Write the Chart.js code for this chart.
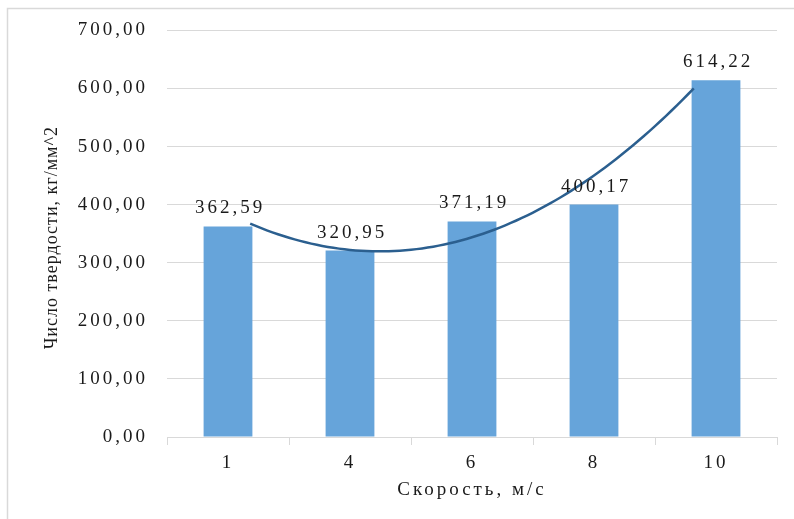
<!DOCTYPE html>
<html>
<head>
<meta charset="utf-8">
<script src="https://cdn.jsdelivr.net/npm/chart.js@4/dist/chart.umd.min.js"></script>
<style>
  html, body { margin: 0; padding: 0; background: #ffffff; }
  #wrap { width: 794px; height: 519px; position: relative; }
</style>
</head>
<body>
<div id="wrap"><canvas id="c"></canvas></div>
<script>
// Speed categories (m/s) and measured hardness values
const speeds = ['1', '4', '6', '8', '10'];
const hardness = [362.59, 320.95, 371.19, 400.17, 614.22];

// Value axis range
const yMin = 0;
const yMax = 700;
const yStep = 100;

const xTitle = 'Скорость, м/с';
const yTitle = 'Число твердости, кг/мм^2';

const FONT = 'Liberation Serif';
const FONT_SIZE = 19;
const TEXT = '#1a1a1a';
const GRID = '#d9d9d9';
const SPACING = '3px';

const fmt = v => Number(v).toFixed(2).replace('.', ',');

// Second-order polynomial trendline (least squares) over category positions 1..n
function polyFit2(ys) {
  const n = ys.length;
  const S = [0, 0, 0, 0, 0];
  const T = [0, 0, 0];
  for (let i = 0; i < n; i++) {
    const x = i + 1;
    for (let k = 0; k < 5; k++) S[k] += Math.pow(x, k);
    for (let k = 0; k < 3; k++) T[k] += Math.pow(x, k) * ys[i];
  }
  const A = [
    [S[0], S[1], S[2], T[0]],
    [S[1], S[2], S[3], T[1]],
    [S[2], S[3], S[4], T[2]]
  ];
  for (let c = 0; c < 3; c++) {
    for (let r = c + 1; r < 3; r++) {
      const f = A[r][c] / A[c][c];
      for (let k = c; k < 4; k++) A[r][k] -= f * A[c][k];
    }
  }
  const coef = [0, 0, 0];
  for (let r = 2; r >= 0; r--) {
    let s = A[r][3];
    for (let k = r + 1; k < 3; k++) s -= A[r][k] * coef[k];
    coef[r] = s / A[r][r];
  }
  return coef;
}
const trendCoef = polyFit2(hardness);
const trendPoints = [];
for (let t = 0; t <= (speeds.length - 1) + 1e-9; t += 0.05) {
  const x = t + 1;
  trendPoints.push({ x: t, y: trendCoef[0] + trendCoef[1] * x + trendCoef[2] * x * x });
}

// Wide letter spacing for the chart's text, plus the outer frame
const spacingPlugin = {
  id: 'spacing',
  beforeLayout(chart) { chart.ctx.letterSpacing = SPACING; },
  beforeDraw(chart) {
    const ctx = chart.ctx;
    ctx.letterSpacing = SPACING;
    ctx.save();
    ctx.strokeStyle = GRID;
    ctx.lineWidth = 1.5;
    ctx.beginPath();
    ctx.moveTo(7.5, chart.height);
    ctx.lineTo(7.5, 8.5);
    ctx.lineTo(chart.width, 8.5);
    ctx.stroke();
    ctx.restore();
  }
};

// Value labels above bars
const barLabels = {
  id: 'barLabels',
  afterDatasetsDraw(chart) {
    const ctx = chart.ctx;
    const meta = chart.getDatasetMeta(0);
    ctx.save();
    ctx.letterSpacing = SPACING;
    ctx.font = FONT_SIZE + 'px "' + FONT + '"';
    ctx.fillStyle = TEXT;
    ctx.textAlign = 'center';
    ctx.textBaseline = 'middle';
    meta.data.forEach((bar, i) => {
      ctx.fillText(fmt(hardness[i]), bar.x + 2, bar.y - 18);
    });
    ctx.restore();
  }
};

// Rotated value-axis title
const yTitlePlugin = {
  id: 'yTitle',
  afterDraw(chart) {
    const ctx = chart.ctx;
    const area = chart.chartArea;
    ctx.save();
    ctx.letterSpacing = '1px';
    ctx.font = '18px "' + FONT + '"';
    ctx.fillStyle = TEXT;
    ctx.textAlign = 'center';
    ctx.textBaseline = 'middle';
    ctx.translate(52, (area.top + area.bottom) / 2 + 4);
    ctx.rotate(-Math.PI / 2);
    ctx.fillText(yTitle, 0, 0);
    ctx.restore();
  }
};

new Chart(document.getElementById('c'), {
  type: 'bar',
  data: {
    labels: speeds,
    datasets: [
      {
        type: 'bar',
        data: hardness,
        backgroundColor: '#66a4da',
        barPercentage: 0.4,
        categoryPercentage: 1.0,
        grouped: false,
        order: 1,
        xAxisID: 'x',
        yAxisID: 'y'
      },
      {
        type: 'line',
        data: trendPoints,
        borderColor: '#2b5f8f',
        borderWidth: 2.5,
        pointRadius: 0,
        tension: 0,
        fill: false,
        order: 0,
        xAxisID: 'xt',
        yAxisID: 'y'
      }
    ]
  },
  options: {
    responsive: true,
    maintainAspectRatio: false,
    animation: false,
    devicePixelRatio: 1,
    layout: { padding: { top: 20, right: 17, bottom: 18, left: 0 } },
    plugins: {
      legend: { display: false },
      tooltip: { enabled: false }
    },
    scales: {
      x: {
        type: 'category',
        offset: true,
        grid: {
          offset: true,
          drawOnChartArea: false,
          drawTicks: true,
          tickLength: 8,
          color: GRID
        },
        border: { display: true, color: GRID, width: 1 },
        ticks: {
          color: TEXT,
          font: { family: FONT, size: FONT_SIZE },
          padding: 7,
          maxRotation: 0
        },
        title: {
          display: true,
          text: xTitle,
          color: TEXT,
          font: { family: FONT, size: FONT_SIZE },
          padding: { top: 0, bottom: 0 }
        },
        afterFit(scale) { scale.height = 64; }
      },
      xt: {
        type: 'linear',
        display: false,
        min: -0.5,
        max: speeds.length - 0.5
      },
      y: {
        type: 'linear',
        min: yMin,
        max: yMax,
        grid: { color: GRID, drawTicks: false, lineWidth: 1 },
        border: { display: false },
        ticks: {
          stepSize: yStep,
          color: TEXT,
          font: { family: FONT, size: FONT_SIZE },
          padding: 19,
          callback: v => fmt(v)
        },
        afterFit(scale) { scale.width = 167; }
      }
    }
  },
  plugins: [spacingPlugin, barLabels, yTitlePlugin]
});
</script>
</body>
</html>
